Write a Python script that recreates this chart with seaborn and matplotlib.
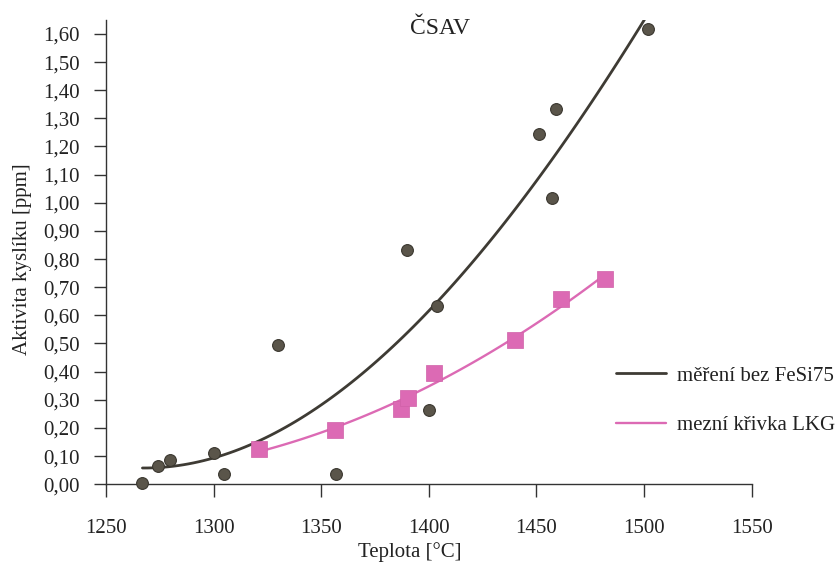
import numpy as np
import pandas as pd
import seaborn as sns
import matplotlib
matplotlib.use("Agg")
import matplotlib.pyplot as plt

# measured points (circles) - mereni bez FeSi75
temp_meas = [1267, 1274, 1280, 1300, 1305, 1330, 1357, 1390, 1400, 1404, 1451, 1457, 1459, 1502]
akt_meas = [0.006, 0.064, 0.085, 0.111, 0.037, 0.494, 0.037, 0.832, 0.263, 0.634, 1.244, 1.018, 1.332, 1.618]

# limit curve points (squares) - mezni krivka LKG
temp_lkg = [1321, 1356.5, 1387, 1390.5, 1402.5, 1440, 1461.5, 1482]
akt_lkg = [0.124, 0.194, 0.269, 0.305, 0.396, 0.512, 0.657, 0.729]

x_ticks = [1250, 1300, 1350, 1400, 1450, 1500, 1550]
y_ticks = [round(0.1 * i, 2) for i in range(17)]
y_labels = ["%.2f" % v for v in y_ticks]
y_labels = [s.replace(".", ",") for s in y_labels]

df_meas = pd.DataFrame({"Teplota": temp_meas, "Aktivita": akt_meas})
df_lkg = pd.DataFrame({"Teplota": temp_lkg, "Aktivita": akt_lkg})

sns.set_style("white")
plt.rcParams["font.family"] = ["Liberation Serif", "DejaVu Serif"]

col_pink = "#dc6ab4"

fig = plt.figure(figsize=(8.4, 5.67), dpi=100)
ax = fig.add_axes([0.126, 0.146, 0.769, 0.819])

# fitted trend lines
sns.regplot(x="Teplota", y="Aktivita", data=df_meas, order=3, ci=None, scatter=False,
            ax=ax, label="měření bez FeSi75", line_kws={"color": "#3e3b34", "lw": 2.0})
sns.regplot(x="Teplota", y="Aktivita", data=df_lkg, order=2, ci=None, scatter=False,
            ax=ax, label="mezní křivka LKG", line_kws={"color": col_pink, "lw": 1.7})

# points
sns.scatterplot(x="Teplota", y="Aktivita", data=df_meas, ax=ax, color="#5a554a",
                s=72, edgecolor="#3a372f", linewidth=0.8, clip_on=False, zorder=3)
sns.scatterplot(x="Teplota", y="Aktivita", data=df_lkg, ax=ax, color=col_pink, marker="s",
                s=120, edgecolor="#d060a8", linewidth=0.5, clip_on=False, zorder=3)

ax.set_xlim(1250, 1550)
ax.set_ylim(0, 1.65)
ax.set_xticks(x_ticks)
ax.set_yticks(y_ticks)
ax.set_yticklabels(y_labels)

sns.despine(ax=ax)
for sp in ["left", "bottom"]:
    ax.spines[sp].set_color("#333333")
    ax.spines[sp].set_linewidth(1.0)
ax.tick_params(axis="both", direction="out", length=9, width=1.0, color="#333333",
               labelsize=15, labelcolor="#222222", bottom=True, left=True)
ax.tick_params(axis="x", pad=16)
ax.tick_params(axis="y", pad=10)

ax.set_xlabel("Teplota [°C]", fontsize=15, color="#222222")
ax.xaxis.set_label_coords(0.47, -0.125)
ax.set_ylabel("Aktivita kyslíku [ppm]", fontsize=15, color="#222222")
ax.yaxis.set_label_coords(-0.114, 0.485)

ax.text(0.518, 0.982, "ČSAV", transform=ax.transAxes, ha="center", va="center",
        fontsize=17, color="#222222")

leg = ax.legend(loc="center left", bbox_to_anchor=(0.79, 0.18), frameon=False,
                fontsize=15, handlelength=2.4, handletextpad=0.5, labelspacing=1.45,
                borderaxespad=0, borderpad=0)
for t in leg.get_texts():
    t.set_color("#222222")

fig.savefig("out.png", dpi=100)
